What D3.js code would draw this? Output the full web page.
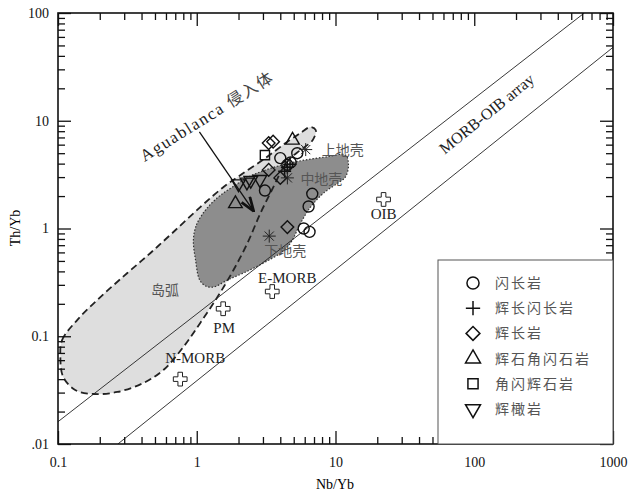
<!DOCTYPE html>
<html>
<head>
<meta charset="utf-8">
<script src="https://cdn.jsdelivr.net/npm/d3@7"></script>
<style>
body { margin: 0; background: #fff; }
text { font-family: "Liberation Serif", "Times New Roman", serif; }
.cjk { font-family: "Noto Sans CJK SC", sans-serif; }
</style>
</head>
<body>
<svg id="chart" width="629" height="492"></svg>
<script>
// axis ticks
var xTicks = [0.1, 1, 10, 100, 1000];
var xTickLabels = ["0.1", "1", "10", "100", "1000"];
var yTicks = [0.01, 0.1, 1, 10, 100];
var yTickLabels = [".01", "0.1", "1", "10", "100"];

// samples [Nb/Yb, Th/Yb]
var diorite = [[4.0, 4.5], [5.3, 5.0], [4.5, 3.9], [4.75, 4.1], [3.1, 2.25], [6.8, 2.1], [6.4, 1.6], [5.9, 1.0], [6.5, 0.93]];
var gabbroDiorite = [[4.5, 3.7], [4.7, 3.95], [4.3, 3.4]];
var gabbro = [[3.3, 6.2], [3.55, 6.4], [3.3, 3.5], [4.0, 2.95], [4.5, 1.03]];
var pyroxeneHornblendite = [[4.9, 6.6], [1.9, 1.7]];
var hornblendePyroxenite = [[3.1, 4.8]];
var gabbroPeridotite = [[2.0, 2.6], [2.3, 2.7], [2.45, 2.8], [2.85, 2.85]];

var rockNames = ["闪长岩", "辉长闪长岩", "辉长岩", "辉石角闪石岩", "角闪辉石岩", "辉橄岩"];

// reference compositions
var refNames = ["OIB", "E-MORB", "PM", "N-MORB"];
var refNb = [22.2, 3.5, 1.55, 0.76];
var refTh = [1.86, 0.26, 0.18, 0.04];

var crustNames = ["上地壳", "中地壳", "下地壳"];
var crustNb = [6.1, 4.5, 3.33];
var crustTh = [5.4, 2.95, 0.85];

// MORB-OIB array boundaries
var arrayUpper = [[0.1, 0.0161], [621, 100]];
var arrayLower = [[0.27, 0.01], [1000, 48]];

// island arc field
var islandArc = [[0.104, 0.064], [0.107, 0.092], [0.138, 0.142], [0.202, 0.231], [0.316, 0.386], [0.464, 0.593],
    [0.679, 0.928], [1.06, 1.58], [1.56, 2.43], [2.07, 3.14], [3.13, 4.51], [4.37, 6.21], [5.6, 7.69],
    [6.6, 8.75], [7.2, 8.2], [6.84, 6.6], [5.6, 5.36], [4.74, 4.51], [4.22, 3.72], [3.57, 2.43],
    [2.88, 1.39], [2.32, 0.733], [1.84, 0.412], [1.41, 0.231], [1.06, 0.133], [0.80, 0.0794],
    [0.575, 0.0486], [0.412, 0.0368], [0.268, 0.0304], [0.18, 0.0291], [0.133, 0.0317], [0.109, 0.0419]];

// Aguablanca intrusion field
var aguablanca = [[0.946, 0.781], [0.995, 1.08], [1.16, 1.49], [1.43, 1.96], [1.81, 2.43], [2.36, 3.01],
    [3.13, 3.49], [4.37, 3.97], [6.08, 4.33], [8.49, 4.61], [11.8, 4.81], [12.4, 3.88], [11.8, 3.01],
    [10.4, 2.64], [8.2, 2.13], [6.61, 1.58], [5.6, 1.12], [4.74, 0.733], [4.02, 0.593], [3.03, 0.479],
    [2.17, 0.386], [1.67, 0.333], [1.32, 0.286], [1.16, 0.293], [1.05, 0.333], [0.98, 0.511]];

var arrowLine = [[1.045, 7.87], [2.57, 1.45]];

var svg = d3.select('#chart');

var x = d3.scaleLog().domain([0.1, 1000]).range([58, 613]);
var y = d3.scaleLog().domain([0.01, 100]).range([444, 13]);

function isMajor(v) {
    var l = Math.log10(v);
    return Math.abs(l - Math.round(l)) < 1e-6;
}
var minorX = x.ticks().filter(function(v) { return !isMajor(v); });
var minorY = y.ticks().filter(function(v) { return !isMajor(v); });

var defs = svg.append("defs");
defs.append("clipPath").attr("id", "plotClip")
    .append("rect").attr("x", 58).attr("y", 13).attr("width", 555).attr("height", 431);
defs.append("marker")
    .attr("id", "head")
    .attr("viewBox", "0 0 16 12")
    .attr("refX", 15).attr("refY", 6)
    .attr("markerWidth", 16).attr("markerHeight", 12)
    .attr("markerUnits", "userSpaceOnUse")
    .attr("orient", "auto")
    .append("path")
    .attr("d", "M1,1L15,6L1,11")
    .attr("fill", "none")
    .attr("stroke", "#111")
    .attr("stroke-width", 2.8);

var plot = svg.append("g").attr("clip-path", "url(#plotClip)");

var pxLine = d3.line()
    .x(function(d) { return x(d[0]); })
    .y(function(d) { return y(d[1]); });
var pxCurve = d3.line()
    .x(function(d) { return x(d[0]); })
    .y(function(d) { return y(d[1]); })
    .curve(d3.curveCatmullRomClosed.alpha(0.5));

// fields
plot.append("path").attr("d", pxCurve(islandArc)).attr("fill", "#dedede").attr("stroke", "none");
plot.append("path").attr("d", pxCurve(aguablanca)).attr("fill", "#8d8d8d").attr("stroke", "none");
plot.append("path").attr("d", pxCurve(islandArc)).attr("fill", "none")
    .attr("stroke", "#222").attr("stroke-width", 1.8).attr("stroke-dasharray", "7,4");
plot.append("path").attr("d", pxCurve(aguablanca)).attr("fill", "none")
    .attr("stroke", "#333").attr("stroke-width", 1.2).attr("stroke-dasharray", "1.5,1.8");

// MORB-OIB array lines
[arrayUpper, arrayLower].forEach(function(l) {
    plot.append("path").attr("d", pxLine(l)).attr("fill", "none")
        .attr("stroke", "#222").attr("stroke-width", 0.9);
});

// axes
function drawAxis(axis, translate) {
    var g = svg.append("g").attr("transform", translate).call(axis);
    g.select(".domain").remove();
    g.selectAll("line").attr("stroke", "#111").attr("stroke-width", 1.3);
    g.selectAll("text").attr("font-size", 14).attr("fill", "#111")
        .style("font-family", "'Liberation Serif', serif");
    return g;
}
drawAxis(d3.axisBottom(x).tickValues(xTicks).tickSize(-13).tickPadding(13)
    .tickFormat(function(d, i) { return xTickLabels[i]; }), "translate(0,444)");
drawAxis(d3.axisBottom(x).tickValues(minorX).tickSize(-7).tickFormat(""), "translate(0,444)");
drawAxis(d3.axisTop(x).tickValues(xTicks).tickSize(-13).tickFormat(""), "translate(0,13)");
drawAxis(d3.axisTop(x).tickValues(minorX).tickSize(-7).tickFormat(""), "translate(0,13)");
drawAxis(d3.axisLeft(y).tickValues(yTicks).tickSize(-13).tickPadding(9)
    .tickFormat(function(d, i) { return yTickLabels[i]; }), "translate(58,0)");
drawAxis(d3.axisLeft(y).tickValues(minorY).tickSize(-7).tickFormat(""), "translate(58,0)");
drawAxis(d3.axisRight(y).tickValues(yTicks).tickSize(-13).tickFormat(""), "translate(613,0)");
drawAxis(d3.axisRight(y).tickValues(minorY).tickSize(-7).tickFormat(""), "translate(613,0)");

svg.append("rect").attr("x", 58).attr("y", 13).attr("width", 555).attr("height", 431)
    .attr("fill", "none").attr("stroke", "#111").attr("stroke-width", 1.6);

svg.append("text").attr("x", 335).attr("y", 489).attr("text-anchor", "middle")
    .attr("font-size", 14).text("Nb/Yb");
svg.append("text").attr("transform", "translate(20,228) rotate(-90)").attr("text-anchor", "middle")
    .attr("font-size", 14).text("Th/Yb");

// symbol shapes
function shape(type, s) {
    var k = s || 1;
    switch (type) {
        case "circle": return d3.symbol(d3.symbolCircle, 95 * k * k)();
        case "plus": return "M" + (-6.5 * k) + ",0H" + (6.5 * k) + "M0," + (-6.5 * k) + "V" + (6.5 * k);
        case "diamond": var r = 6.3 * k; return "M0," + (-r) + "L" + r + ",0L0," + r + "L" + (-r) + ",0Z";
        case "triangle": return d3.symbol(d3.symbolTriangle, 80 * k * k)();
        case "square": return d3.symbol(d3.symbolSquare, 85 * k * k)();
        case "triangleDown": return d3.symbol(d3.symbolTriangle, 80 * k * k)();
        case "star":
            var a = 6.5 * k, b = a * 0.7071;
            return "M" + (-a) + ",0H" + a + "M0," + (-a) + "V" + a +
                "M" + (-b) + "," + (-b) + "L" + b + "," + b + "M" + (-b) + "," + b + "L" + b + "," + (-b);
    }
}
var rockShapes = ["circle", "plus", "diamond", "triangle", "square", "triangleDown"];
var rockData = [diorite, gabbroDiorite, gabbro, pyroxeneHornblendite, hornblendePyroxenite, gabbroPeridotite];

// reference points (hollow crosses)
plot.selectAll(".ref")
    .data(refNames)
    .enter()
    .append("path")
    .attr("class", "ref")
    .attr("transform", function(d, i) { return "translate(" + x(refNb[i]) + "," + y(refTh[i]) + ")"; })
    .attr("d", d3.symbol(d3.symbolCross, 105)())
    .attr("fill", "#fff").attr("stroke", "#222").attr("stroke-width", 1);

var refOffset = [[0, 20], [15, -9], [1, 24], [15, -16]];
svg.selectAll(".refLabel")
    .data(refNames)
    .enter()
    .append("text")
    .attr("class", "refLabel")
    .attr("x", function(d, i) { return x(refNb[i]) + refOffset[i][0]; })
    .attr("y", function(d, i) { return y(refTh[i]) + refOffset[i][1]; })
    .attr("text-anchor", "middle")
    .attr("font-size", 15)
    .attr("fill", "#222")
    .text(function(d) { return d; });

// samples
rockData.forEach(function(data, j) {
    plot.selectAll(".rock" + j)
        .data(data)
        .enter()
        .append("path")
        .attr("class", "rock" + j)
        .attr("transform", function(d) {
            return "translate(" + x(d[0]) + "," + y(d[1]) + ")" + (rockShapes[j] === "triangleDown" ? " rotate(180)" : "");
        })
        .attr("d", shape(rockShapes[j]))
        .attr("fill", "none")
        .attr("stroke", "#111")
        .attr("stroke-width", 1.4);
});

// crust reference (asterisks)
plot.selectAll(".crust")
    .data(crustNames)
    .enter()
    .append("path")
    .attr("class", "crust")
    .attr("transform", function(d, i) { return "translate(" + x(crustNb[i]) + "," + y(crustTh[i]) + ")"; })
    .attr("d", shape("star"))
    .attr("fill", "none").attr("stroke", "#222").attr("stroke-width", 1);

var crustOffset = [[16, 5], [13, 6], [-5, 20]];
svg.selectAll(".crustLabel")
    .data(crustNames)
    .enter()
    .append("text")
    .attr("class", "crustLabel cjk")
    .attr("x", function(d, i) { return x(crustNb[i]) + crustOffset[i][0]; })
    .attr("y", function(d, i) { return y(crustTh[i]) + crustOffset[i][1]; })
    .attr("font-size", 14)
    .attr("fill", "#555")
    .text(function(d) { return d; });

// island arc label
svg.append("text").attr("class", "cjk").attr("x", x(0.59)).attr("y", y(0.24))
    .attr("text-anchor", "middle").attr("font-size", 14).attr("fill", "#555").text("岛弧");

// MORB-OIB array label
svg.append("text")
    .attr("transform", "translate(" + x(130) + "," + y(10.6) + ") rotate(-39)")
    .attr("text-anchor", "middle").attr("font-size", 16).attr("fill", "#222")
    .text("MORB-OIB array");

// Aguablanca arrow and label
svg.append("path").attr("d", pxLine(arrowLine)).attr("fill", "none")
    .attr("stroke", "#111").attr("stroke-width", 1.3).attr("marker-end", "url(#head)");
var ag = svg.append("text")
    .attr("transform", "translate(" + x(0.42) + "," + y(4.14) + ") rotate(-32)")
    .attr("font-size", 17).attr("fill", "#222").attr("letter-spacing", 1.5);
ag.append("tspan").text("Aguablanca ");
ag.append("tspan").attr("class", "cjk").attr("font-size", 16).attr("fill", "#444").text("侵入体");

// legend
var legend = svg.append("g");
legend.append("rect").attr("x", 438).attr("y", 260).attr("width", 175).attr("height", 184)
    .attr("fill", "#fff").attr("stroke", "#555").attr("stroke-width", 1);
var rows = legend.selectAll(".row")
    .data(rockNames)
    .enter()
    .append("g")
    .attr("class", "row")
    .attr("transform", function(d, i) { return "translate(473," + (283 + i * 25.2) + ")"; });
rows.append("path")
    .attr("d", function(d, i) { return shape(rockShapes[i], 1.1); })
    .attr("transform", function(d, i) { return rockShapes[i] === "triangleDown" ? "rotate(180)" : null; })
    .attr("fill", "none").attr("stroke", "#111").attr("stroke-width", 1.5);
rows.append("text")
    .attr("class", "cjk")
    .attr("x", 22).attr("y", 5)
    .attr("font-size", 14).attr("fill", "#555").attr("letter-spacing", 2)
    .text(function(d) { return d; });
</script>
</body>
</html>
